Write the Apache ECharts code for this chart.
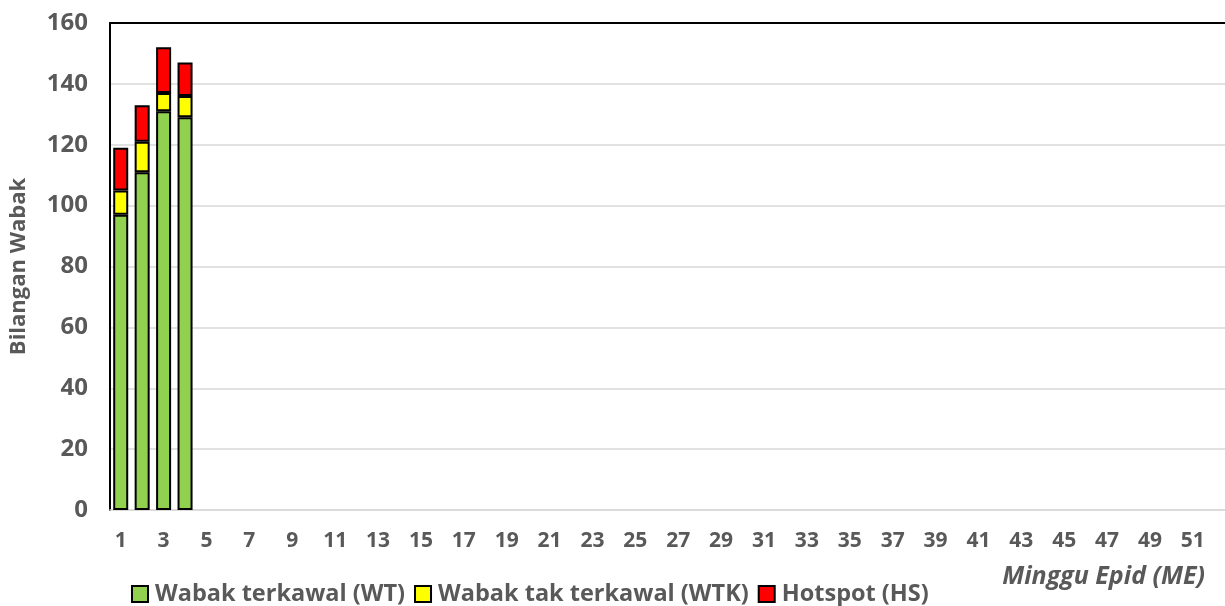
<!DOCTYPE html>
<html>
<head>
<meta charset="utf-8">
<script src="https://cdn.jsdelivr.net/npm/echarts@6/dist/echarts.min.js"></script>
<style>
  html, body { margin: 0; padding: 0; background: #fff; }
  #chart { width: 1225px; height: 606px; }
</style>
</head>
<body>
<div id="chart"></div>
<script>
// minggu epid 1..52
var weeks = []
for (var i = 1; i <= 52; i++) weeks.push(String(i))

var wtData = [97, 111, 131, 129]
var wtkData = [8, 10, 6, 7]
var hsData = [14, 12, 15, 11]

var seriesNames = ['Wabak terkawal (WT)', 'Wabak tak terkawal (WTK)', 'Hotspot (HS)']
var colors = ['#92D050', '#FFFF00', '#FF0000']

var textColor = '#595959'
var fontFam = '"Open Sans", "Liberation Sans", sans-serif'

var myChart = echarts.init(document.getElementById('chart'))

var seriesData = [wtData, wtkData, hsData].map(function (data, index) {
  return {
    name: seriesNames[index],
    type: 'bar',
    stack: 'wabak',
    data: data,
    barCategoryGap: '30%',
    itemStyle: {
      color: colors[index],
      borderColor: '#000',
      borderWidth: 2
    }
  }
})

var option = {
  animation: false,
  grid: {
    left: 110,
    right: -2,
    top: 23,
    bottom: 96
  },
  legend: {
    left: 126,
    top: 577,
    itemWidth: 16,
    itemHeight: 16,
    itemGap: 9,
    icon: 'rect',
    data: seriesNames,
    textStyle: {
      color: textColor,
      fontSize: 23.5,
      fontWeight: 'bold',
      fontFamily: fontFam,
      padding: [0, 0, 0, 2]
    }
  },
  xAxis: [{
    type: 'category',
    data: weeks,
    axisTick: { show: false },
    axisLine: { lineStyle: { color: '#d9d9d9', width: 1.5 } },
    axisLabel: {
      interval: 1,
      margin: 21,
      color: textColor,
      fontSize: 21,
      fontWeight: 'bold',
      fontFamily: fontFam
    }
  }, {
    // garis hitam di atas
    type: 'category',
    position: 'top',
    data: weeks,
    axisTick: { show: false },
    axisLabel: { show: false },
    axisLine: { lineStyle: { color: '#000', width: 2 } }
  }],
  yAxis: {
    type: 'value',
    min: 0,
    max: 160,
    interval: 20,
    name: 'Bilangan Wabak',
    nameLocation: 'middle',
    nameGap: 80,
    nameTextStyle: {
      color: textColor,
      fontSize: 22,
      fontWeight: 'bold',
      fontFamily: fontFam
    },
    axisLine: { show: true, lineStyle: { color: '#000', width: 2 } },
    axisTick: { show: false },
    splitLine: { lineStyle: { color: '#d9d9d9', width: 1.5 } },
    axisLabel: {
      margin: 22,
      color: textColor,
      fontSize: 24,
      fontWeight: 'bold',
      fontFamily: fontFam
    }
  },
  graphic: [{
    type: 'text',
    right: 20,
    top: 564,
    style: {
      text: 'Minggu Epid (ME)',
      fill: textColor,
      fontSize: 25,
      fontWeight: 'bold',
      fontStyle: 'italic',
      fontFamily: fontFam
    }
  }],
  series: seriesData
}

myChart.setOption(option)
</script>
</body>
</html>
